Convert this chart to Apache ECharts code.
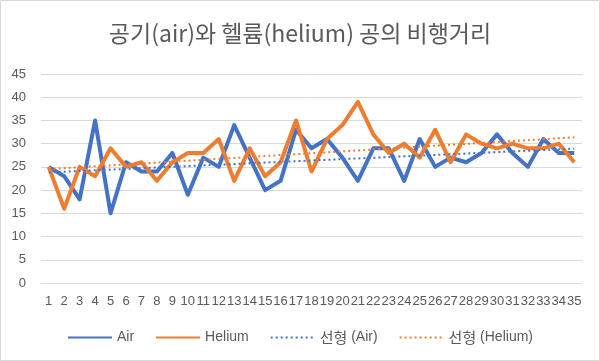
<!DOCTYPE html>
<html><head><meta charset="utf-8">
<script src="https://cdn.jsdelivr.net/npm/echarts@6/dist/echarts.min.js"></script>
<style>html,body{margin:0;padding:0;background:#fff}#c{width:600px;height:361px}</style>
</head><body><div id="c"></div>
<script>
var categories = ['1','2','3','4','5','6','7','8','9','10','11','12','13','14','15','16','17','18','19','20','21','22','23','24','25','26','27','28','29','30','31','32','33','34','35'];
var airValues = [25,23,18,35,15,26,24,24,28,19,27,25,34,27,20,22,33,29,31,27,22,29,29,22,31,25,27,26,28,32,28,25,31,28,28];
var heliumValues = [25,16,25,23,29,25,26,22,26,28,28,31,22,29,23,26,35,24,31,34,39,32,28,30,27,33,26,32,30,29,30,29,29,30,26];
var yTicks = [0,5,10,15,20,25,30,35,40,45];
var titleText = '공기(air)와 헬륨(helium) 공의 비행거리';
var legendNames = ['Air','Helium','선형 (Air)','선형 (Helium)'];

function trend(vals){
  var n = vals.length, sx=0, sy=0, sxx=0, sxy=0;
  for (var i=0;i<n;i++){ var x=i+1; sx+=x; sy+=vals[i]; sxx+=x*x; sxy+=x*vals[i]; }
  var b = (n*sxy - sx*sy)/(n*sxx - sx*sx);
  var a = (sy - b*sx)/n;
  return vals.map(function(_,i){ return +(a + b*(i+1)).toFixed(3); });
}

var blue = '#4472C4', orange = '#ED7D31', txt = '#595959';
var chart = echarts.init(document.getElementById('c'), null, {renderer:'canvas'});
chart.setOption({
  animation:false,
  backgroundColor:'#fff',
  title:{text:titleText,left:'center',top:17,textStyle:{fontFamily:'Noto Sans CJK KR',fontSize:23,fontWeight:'normal',color:txt}},
  grid:{left:41,right:18,top:74,bottom:78},
  graphic:[{type:'rect',shape:{x:0.5,y:0.5,width:599,height:360},style:{fill:'none',stroke:'#d9d9d9',lineWidth:1},silent:true}],
  legend:{top:325,left:'center',itemWidth:44,itemHeight:4,itemGap:21,
    itemStyle:{opacity:0},
    textStyle:{fontFamily:'Liberation Sans',fontSize:14,color:txt,
      rich:{k:{fontFamily:'Noto Sans CJK KR',fontSize:15,color:txt},l:{fontFamily:'Liberation Sans',fontSize:14,color:txt}}},
    formatter:function(name){
      var i = name.indexOf(' ');
      if (i>0 && name.charCodeAt(0)>255) return '{k|'+name.slice(0,i)+'} {l|'+name.slice(i+1)+'}';
      return name;
    },
    data:legendNames},
  xAxis:{type:'category',data:categories,boundaryGap:true,
    axisLine:{lineStyle:{color:'#d9d9d9'}},axisTick:{show:false},
    axisLabel:{interval:0,color:txt,fontFamily:'Liberation Sans',fontSize:13,margin:12}},
  yAxis:{type:'value',min:0,max:45,interval:5,
    axisLine:{show:false},axisTick:{show:false},
    splitLine:{lineStyle:{color:'#d9d9d9'}},
    axisLabel:{color:txt,fontFamily:'Liberation Sans',fontSize:13,margin:15,
      formatter:function(v){return yTicks.indexOf(v)>=0?String(v):'';}}},
  series:[
    {name:legendNames[0],type:'line',data:airValues,symbol:'none',z:3,lineStyle:{color:blue,width:4,join:'round'},itemStyle:{color:blue}},
    {name:legendNames[1],type:'line',data:heliumValues,symbol:'none',z:4,lineStyle:{color:orange,width:4,join:'round'},itemStyle:{color:orange}},
    {name:legendNames[2],type:'line',data:trend(airValues),symbol:'none',z:5,lineStyle:{color:blue,width:2,type:[2,3]},itemStyle:{color:blue}},
    {name:legendNames[3],type:'line',data:trend(heliumValues),symbol:'none',z:5,lineStyle:{color:orange,width:2,type:[2,3]},itemStyle:{color:orange}}
  ]
});
</script></body></html>
